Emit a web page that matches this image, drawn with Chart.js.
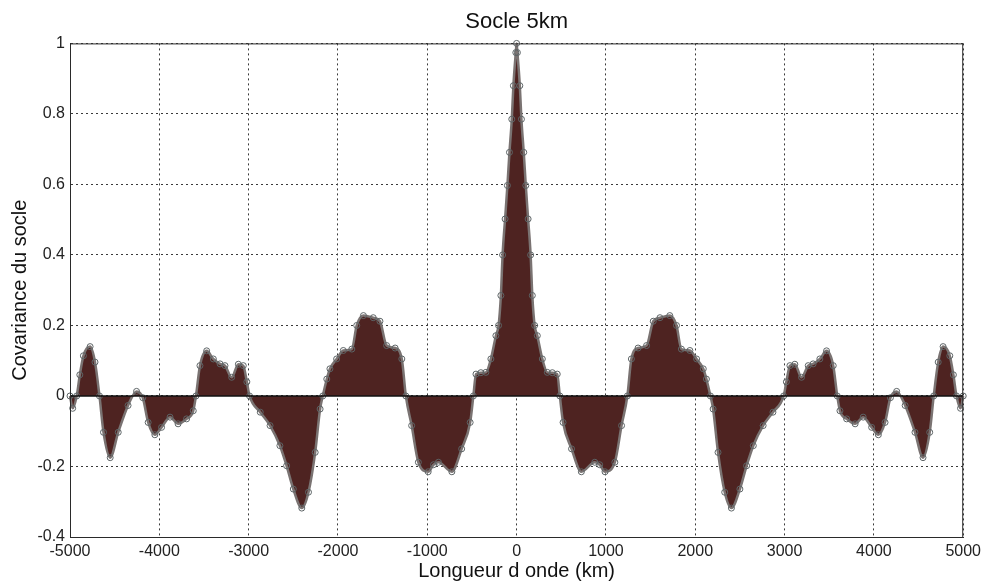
<!DOCTYPE html>
<html>
<head>
<meta charset="utf-8">
<title>Socle 5km</title>
<script src="https://cdn.jsdelivr.net/npm/chart.js@4/dist/chart.umd.min.js"></script>
<style>
  html, body { margin: 0; padding: 0; background: #fff; }
  #wrap { width: 986px; height: 583px; }
</style>
</head>
<body>
<div id="wrap"><canvas id="covChart" width="986" height="583"></canvas></div>
<script>
// wavelength (km)
const distances = [
  -5000, -4970, -4925, -4890, -4850, -4775, -4720, -4670, -4625, -4550,
  -4460, -4350, -4255, -4185, -4125, -4050, -3975, -3880, -3790, -3695,
  -3620, -3590, -3545, -3470, -3395, -3320, -3265, -3190, -3115, -3060,
  -3020, -2990, -2870, -2760, -2650, -2575, -2500, -2405, -2330, -2255,
  -2200, -2170, -2125, -2090, -2015, -1940, -1845, -1790, -1715, -1605,
  -1530, -1455, -1360, -1285, -1240, -1175, -1100, -990, -930, -875,
  -725, -615, -520, -484, -455, -400, -344, -288, -232, -202,
  -176, -157, -129, -103, -80, -54, -36, -9, 0,
  9, 36, 54, 80, 103, 129, 157, 176, 202, 232,
  288, 344, 400, 455, 484, 520, 615, 725, 875, 930,
  990, 1100, 1175, 1240, 1285, 1360, 1455, 1530, 1605, 1715,
  1790, 1845, 1940, 2015, 2090, 2125, 2170, 2200, 2255, 2330,
  2405, 2500, 2575, 2650, 2760, 2870, 2990, 3020, 3060, 3115,
  3190, 3265, 3320, 3395, 3470, 3545, 3590, 3620, 3695, 3790,
  3880, 3975, 4050, 4125, 4185, 4255, 4350, 4460, 4550, 4625,
  4670, 4720, 4775, 4850, 4890, 4925, 4970, 5000
];

// covariance values, same order as distances
const covariance = [
  0, -0.035, 0, 0.06, 0.114, 0.14, 0.096, 0, -0.103, -0.175,
  -0.103, -0.027, 0.013, -0.005, -0.075, -0.11, -0.089, -0.06, -0.079, -0.065,
  -0.042, 0, 0.086, 0.128, 0.105, 0.091, 0.086, 0.053, 0.09, 0.086,
  0.04, 0, -0.046, -0.084, -0.141, -0.198, -0.264, -0.318, -0.273, -0.16,
  -0.037, 0, 0.048, 0.077, 0.105, 0.129, 0.133, 0.2, 0.228, 0.222,
  0.212, 0.143, 0.136, 0.105, 0, -0.084, -0.188, -0.215, -0.195, -0.188,
  -0.215, -0.15, -0.075, 0, 0.062, 0.066, 0.067, 0.105, 0.171, 0.2,
  0.285, 0.4, 0.502, 0.597, 0.691, 0.785, 0.88, 0.974, 1,
  0.974, 0.88, 0.785, 0.691, 0.597, 0.502, 0.4, 0.285, 0.2, 0.171,
  0.105, 0.067, 0.066, 0.062, 0, -0.075, -0.15, -0.215, -0.188, -0.195,
  -0.215, -0.188, -0.084, 0, 0.105, 0.136, 0.143, 0.212, 0.222, 0.228,
  0.2, 0.133, 0.129, 0.105, 0.077, 0.048, 0, -0.037, -0.16, -0.273,
  -0.318, -0.264, -0.198, -0.141, -0.084, -0.046, 0, 0.04, 0.086, 0.09,
  0.053, 0.086, 0.091, 0.105, 0.128, 0.086, 0, -0.042, -0.065, -0.079,
  -0.06, -0.089, -0.11, -0.075, -0.005, 0.013, -0.027, -0.103, -0.175, -0.103,
  0, 0.096, 0.14, 0.114, 0.06, 0, -0.035, 0
];

const xTicks = [-5000, -4000, -3000, -2000, -1000, 0, 1000, 2000, 3000, 4000, 5000];
const yTicks = [-0.4, -0.2, 0, 0.2, 0.4, 0.6, 0.8, 1];

const FONT = "'Liberation Sans', Arial, sans-serif";

const points = distances.map((d, i) => ({ x: d, y: covariance[i] }));
const zeroLine = [
  { x: xTicks[0], y: 0 },
  { x: xTicks[xTicks.length - 1], y: 0 },
];

// matlab style box around the axes
const frame = {
  id: 'frame',
  afterDatasetsDraw(chart) {
    const { ctx, chartArea: a } = chart;
    ctx.save();
    ctx.strokeStyle = '#2a2a2a';
    ctx.lineWidth = 1;
    ctx.strokeRect(a.left + 0.5, a.top + 0.5, a.right - a.left - 1, a.bottom - a.top);
    ctx.restore();
  },
};

new Chart(document.getElementById('covChart'), {
  type: 'line',
  data: {
    datasets: [
      {
        data: zeroLine,
        borderColor: '#111',
        borderWidth: 1.5,
        pointRadius: 0,
        fill: false,
        order: 0,
      },
      {
        data: points,
        borderColor: '#7a7372',
        borderWidth: 2.5,
        backgroundColor: '#4e2321',
        fill: 'origin',
        clip: 4,
        cubicInterpolationMode: 'monotone',
        pointRadius: 3,
        pointBorderWidth: 1,
        pointBorderColor: '#5d6466',
        pointBackgroundColor: 'rgba(0,0,0,0)',
        order: 1,
      },
    ],
  },
  options: {
    responsive: false,
    animation: false,
    layout: { padding: { right: 21, left: 0, top: 0, bottom: 0 } },
    plugins: {
      legend: { display: false },
      tooltip: { enabled: false },
      title: {
        display: true,
        text: 'Socle 5km',
        fullSize: false,
        color: '#111',
        font: { family: FONT, size: 22, weight: 'normal' },
        padding: { top: 9, bottom: 8 },
      },
    },
    scales: {
      x: {
        type: 'linear',
        min: xTicks[0],
        max: xTicks[xTicks.length - 1],
        afterBuildTicks: (scale) => { scale.ticks = xTicks.map((v) => ({ value: v })); },
        afterFit: (scale) => { scale.height = 46; },
        ticks: {
          color: '#222',
          font: { family: FONT, size: 16 },
          padding: 5,
          maxRotation: 0,
          callback: (v) => String(v),
        },
        grid: { color: '#3a3a3a', lineWidth: 1, drawTicks: false },
        border: { color: '#2a2a2a', dash: [2, 3] },
        title: {
          display: true,
          text: 'Longueur d onde (km)',
          color: '#111',
          font: { family: FONT, size: 20 },
          padding: { top: 0, bottom: 0 },
        },
      },
      y: {
        min: yTicks[0],
        max: yTicks[yTicks.length - 1],
        afterBuildTicks: (scale) => { scale.ticks = yTicks.map((v) => ({ value: v })); },
        afterFit: (scale) => { scale.width = 70; },
        ticks: {
          color: '#222',
          font: { family: FONT, size: 16 },
          padding: 5,
          callback: (v) => String(Math.round(v * 10) / 10),
        },
        grid: { color: '#3a3a3a', lineWidth: 1, drawTicks: false },
        border: { color: '#2a2a2a', dash: [2, 3] },
        title: {
          display: true,
          text: 'Covariance du socle',
          color: '#111',
          font: { family: FONT, size: 20 },
          padding: { top: 8, bottom: 0 },
        },
      },
    },
  },
  plugins: [frame],
});
</script>
</body>
</html>
